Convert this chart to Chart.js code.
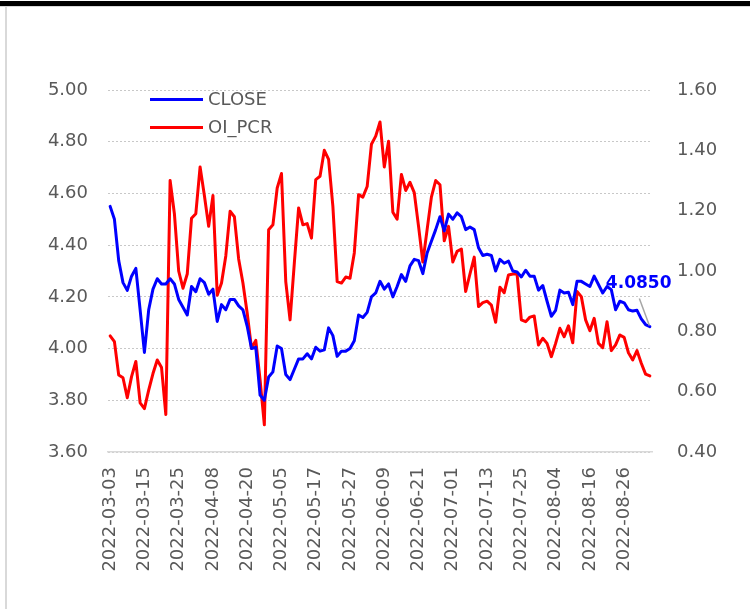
<!DOCTYPE html>
<html>
<head>
<meta charset="utf-8">
<title>CLOSE / OI_PCR</title>
<script src="https://cdn.jsdelivr.net/npm/chart.js"></script>
<style>
  body { margin: 0; background: #fff; }
  .frame { position: relative; width: 750px; height: 609px; overflow: hidden; }
  .top-bar { position: absolute; left: 0; top: 1px; width: 750px; height: 5px; background: #000; }
  .top-gray { position: absolute; left: 0; top: 6px; width: 750px; height: 1px; background: #d9d9d9; }
  .left-gray { position: absolute; left: 5px; top: 7px; width: 2px; height: 602px; background: #d9d9d9; }
  canvas { position: absolute; left: 0; top: 0; }
</style>
</head>
<body>
<div class="frame">
  <canvas id="chart" width="750" height="609"></canvas>
  <div class="top-bar"></div>
  <div class="top-gray"></div>
  <div class="left-gray"></div>
</div>
<script>
  // trading days, 2022-03-03 .. 2022-09-05
  const dates = [
    '2022-03-03','2022-03-04','2022-03-07','2022-03-08','2022-03-09','2022-03-10','2022-03-11',
    '2022-03-14','2022-03-15','2022-03-16','2022-03-17','2022-03-18','2022-03-21','2022-03-22',
    '2022-03-23','2022-03-24','2022-03-25','2022-03-28','2022-03-29','2022-03-30','2022-03-31',
    '2022-04-01','2022-04-06','2022-04-07','2022-04-08','2022-04-11','2022-04-12','2022-04-13',
    '2022-04-14','2022-04-15','2022-04-18','2022-04-19','2022-04-20','2022-04-21','2022-04-22',
    '2022-04-25','2022-04-26','2022-04-27','2022-04-28','2022-04-29',
    '2022-05-05','2022-05-06','2022-05-09','2022-05-10','2022-05-11','2022-05-12','2022-05-13',
    '2022-05-16','2022-05-17','2022-05-18','2022-05-19','2022-05-20','2022-05-23','2022-05-24',
    '2022-05-25','2022-05-26','2022-05-27','2022-05-30','2022-05-31',
    '2022-06-01','2022-06-02','2022-06-06','2022-06-07','2022-06-08','2022-06-09','2022-06-10',
    '2022-06-13','2022-06-14','2022-06-15','2022-06-16','2022-06-17','2022-06-20','2022-06-21',
    '2022-06-22','2022-06-23','2022-06-24','2022-06-27','2022-06-28','2022-06-29','2022-06-30',
    '2022-07-01','2022-07-04','2022-07-05','2022-07-06','2022-07-07','2022-07-08','2022-07-11',
    '2022-07-12','2022-07-13','2022-07-14','2022-07-15','2022-07-18','2022-07-19','2022-07-20',
    '2022-07-21','2022-07-22','2022-07-25','2022-07-26','2022-07-27','2022-07-28','2022-07-29',
    '2022-08-01','2022-08-02','2022-08-03','2022-08-04','2022-08-05','2022-08-08','2022-08-09',
    '2022-08-10','2022-08-11','2022-08-12','2022-08-15','2022-08-16','2022-08-17','2022-08-18',
    '2022-08-19','2022-08-22','2022-08-23','2022-08-24','2022-08-25','2022-08-26','2022-08-29',
    '2022-08-30','2022-08-31','2022-09-01','2022-09-02','2022-09-05'
  ];

  const closeValues = [
    4.55, 4.50, 4.34, 4.255, 4.225, 4.28, 4.31, 4.15, 3.985, 4.15,
    4.23, 4.27, 4.25, 4.25, 4.27, 4.25, 4.19, 4.16, 4.13, 4.24,
    4.22, 4.27, 4.255, 4.21, 4.23, 4.105, 4.17, 4.15, 4.19, 4.19,
    4.165, 4.15, 4.086, 4.00, 4.005, 3.82, 3.80, 3.89, 3.91, 4.01,
    4.00, 3.90, 3.88, 3.92, 3.96, 3.96, 3.98, 3.96, 4.005, 3.99,
    3.995, 4.08, 4.05, 3.97, 3.99, 3.99, 4.00, 4.03, 4.13, 4.12,
    4.14, 4.20, 4.215, 4.26, 4.23, 4.25, 4.20, 4.24, 4.286, 4.26,
    4.32, 4.345, 4.34, 4.29, 4.37, 4.415, 4.46, 4.51, 4.455, 4.52,
    4.50, 4.525, 4.51, 4.46, 4.47, 4.46, 4.39, 4.36, 4.365, 4.36,
    4.30, 4.345, 4.33, 4.338, 4.30, 4.296, 4.277, 4.303, 4.28, 4.28,
    4.226, 4.244, 4.183, 4.125, 4.148, 4.226, 4.215, 4.218, 4.17, 4.26,
    4.26, 4.25, 4.24, 4.28, 4.248, 4.215, 4.24, 4.228, 4.15, 4.183,
    4.177, 4.15, 4.145, 4.148, 4.115, 4.093, 4.085
  ];

  const oiPcrValues = [
    0.785, 0.766, 0.655, 0.646, 0.58, 0.65, 0.70, 0.563, 0.544, 0.605,
    0.66, 0.705, 0.68, 0.524, 1.30, 1.19, 1.00, 0.943, 0.99, 1.175,
    1.19, 1.345, 1.25, 1.148, 1.25, 0.92, 0.96, 1.05, 1.198, 1.18,
    1.04, 0.96, 0.86, 0.744, 0.77, 0.64, 0.49, 1.137, 1.153, 1.275,
    1.323, 0.965, 0.838, 1.026, 1.209, 1.153, 1.157, 1.109, 1.303, 1.314,
    1.40, 1.37, 1.214, 0.965, 0.96, 0.98, 0.976, 1.06, 1.253, 1.245,
    1.28, 1.42, 1.447, 1.494, 1.345, 1.43, 1.195, 1.172, 1.32, 1.267,
    1.294, 1.26, 1.148, 1.03, 1.137, 1.245, 1.30, 1.286, 1.10, 1.148,
    1.03, 1.065, 1.073, 0.932, 0.99, 1.046, 0.882, 0.895, 0.90, 0.887,
    0.83, 0.946, 0.928, 0.987, 0.99, 0.99, 0.838, 0.832, 0.847, 0.851,
    0.755, 0.777, 0.76, 0.716, 0.76, 0.81, 0.782, 0.818, 0.762, 0.932,
    0.915, 0.838, 0.802, 0.843, 0.76, 0.746, 0.832, 0.736, 0.755, 0.788,
    0.78, 0.729, 0.705, 0.736, 0.694, 0.658, 0.652
  ];

  const leftAxis = { min: 3.6, max: 5.0, step: 0.2 };
  const rightAxis = { min: 0.4, max: 1.6, step: 0.2 };
  const labelEvery = 8;

  const FONT = 'DejaVu Sans';
  const TEXT = '#595959';

  // legend sits inside the plot, top-left
  const innerLegend = {
    id: 'innerLegend',
    afterDraw(chart) {
      const ctx = chart.ctx;
      const rows = [{ y: 99.5 }, { y: 127.5 }];
      ctx.save();
      chart.data.datasets.forEach((ds, i) => {
        const y = rows[i].y;
        ctx.strokeStyle = ds.borderColor;
        ctx.lineWidth = 3;
        ctx.beginPath();
        ctx.moveTo(150, y);
        ctx.lineTo(203, y);
        ctx.stroke();
        ctx.fillStyle = TEXT;
        ctx.font = '18px "' + FONT + '"';
        ctx.textBaseline = 'middle';
        ctx.fillText(ds.label, 208, y + 1);
      });
      ctx.restore();
    }
  };

  // value label for the last close
  const lastLabel = {
    id: 'lastLabel',
    afterDatasetsDraw(chart) {
      const meta = chart.getDatasetMeta(0);
      const pt = meta.data[meta.data.length - 1];
      const ctx = chart.ctx;
      ctx.save();
      ctx.strokeStyle = '#a6a6a6';
      ctx.lineWidth = 1.5;
      ctx.beginPath();
      ctx.moveTo(pt.x - 10.5, pt.y - 28);
      ctx.lineTo(pt.x - 0.5, pt.y - 1);
      ctx.stroke();
      ctx.fillStyle = '#0000ff';
      ctx.font = 'bold 17px "' + FONT + '"';
      ctx.textBaseline = 'alphabetic';
      ctx.fillText(closeValues[closeValues.length - 1].toFixed(4), pt.x - 44, pt.y - 39);
      ctx.restore();
    }
  };

  const data = {
    labels: dates,
    datasets: [
      {
        label: 'CLOSE',
        data: closeValues,
        yAxisID: 'y',
        borderColor: '#0000ff',
        borderWidth: 3,
        pointRadius: 0,
        borderJoinStyle: 'round',
        borderCapStyle: 'round',
        tension: 0
      },
      {
        label: 'OI_PCR',
        data: oiPcrValues,
        yAxisID: 'y1',
        borderColor: '#ff0000',
        borderWidth: 3,
        pointRadius: 0,
        borderJoinStyle: 'round',
        borderCapStyle: 'round',
        tension: 0
      }
    ]
  };

  const config = {
    type: 'line',
    data,
    options: {
      responsive: false,
      animation: false,
      devicePixelRatio: 1,
      layout: { padding: { top: 90, left: 0, right: 0, bottom: 0 } },
      plugins: {
        legend: { display: false },
        tooltip: { enabled: false }
      },
      scales: {
        x: {
          type: 'category',
          offset: true,
          grid: { display: false, drawTicks: false },
          border: { display: true, color: '#d9d9d9', width: 1.5 },
          ticks: {
            autoSkip: false,
            minRotation: 90,
            maxRotation: 90,
            padding: 15,
            color: TEXT,
            font: { family: FONT, size: 18 },
            callback(value, index) {
              return index % labelEvery === 0 ? this.getLabelForValue(value) : '';
            }
          },
          afterFit(scale) { scale.height = 157; }
        },
        y: {
          position: 'left',
          min: leftAxis.min,
          max: leftAxis.max,
          grid: { color: '#c8c8c8', lineWidth: 1, drawTicks: false },
          border: { display: false, dash: [2, 2] },
          ticks: {
            stepSize: leftAxis.step,
            padding: 20,
            color: TEXT,
            font: { family: FONT, size: 18 },
            callback: v => v.toFixed(2)
          },
          afterFit(scale) { scale.width = 108; }
        },
        y1: {
          position: 'right',
          min: rightAxis.min,
          max: rightAxis.max,
          grid: { display: false, drawTicks: false },
          border: { display: false },
          ticks: {
            stepSize: rightAxis.step,
            padding: 25,
            color: TEXT,
            font: { family: FONT, size: 18 },
            callback: v => v.toFixed(2)
          },
          afterFit(scale) { scale.width = 98; }
        }
      }
    },
    plugins: [innerLegend, lastLabel]
  };

  const myChart = new Chart(document.getElementById('chart'), config);
</script>
</body>
</html>
